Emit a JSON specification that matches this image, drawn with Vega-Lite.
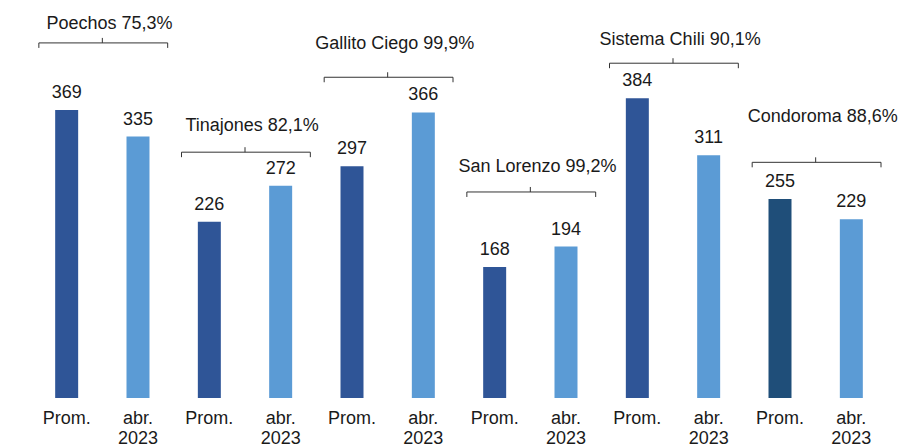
{
  "$schema": "https://vega.github.io/schema/vega-lite/v6.json",
  "width": 856,
  "height": 398,
  "autosize": {"type": "none"},
  "padding": {"left": 31, "right": 31, "top": 0, "bottom": 48},
  "background": "white",
  "config": {"view": {"stroke": null}, "font": "Liberation Sans"},
  "datasets": {
    "bars": [
      {"reservoir": "Poechos", "period": "Prom.", "value": 369},
      {"reservoir": "Poechos", "period": "abr. 2023", "value": 335},
      {"reservoir": "Tinajones", "period": "Prom.", "value": 226},
      {"reservoir": "Tinajones", "period": "abr. 2023", "value": 272},
      {"reservoir": "Gallito Ciego", "period": "Prom.", "value": 297},
      {"reservoir": "Gallito Ciego", "period": "abr. 2023", "value": 366},
      {"reservoir": "San Lorenzo", "period": "Prom.", "value": 168},
      {"reservoir": "San Lorenzo", "period": "abr. 2023", "value": 194},
      {"reservoir": "Sistema Chili", "period": "Prom.", "value": 384},
      {"reservoir": "Sistema Chili", "period": "abr. 2023", "value": 311},
      {"reservoir": "Condoroma", "period": "Prom.", "value": 255},
      {"reservoir": "Condoroma", "period": "abr. 2023", "value": 229}
    ],
    "groups": [
      {"reservoir": "Poechos", "label": "Poechos 75,3%", "bracket": 455, "labelLevel": 473},
      {"reservoir": "Tinajones", "label": "Tinajones 82,1%", "bracket": 315, "labelLevel": 342},
      {"reservoir": "Gallito Ciego", "label": "Gallito Ciego 99,9%", "bracket": 411, "labelLevel": 447},
      {"reservoir": "San Lorenzo", "label": "San Lorenzo 99,2%", "bracket": 264, "labelLevel": 290},
      {"reservoir": "Sistema Chili", "label": "Sistema Chili 90,1%", "bracket": 429, "labelLevel": 452},
      {"reservoir": "Condoroma", "label": "Condoroma 88,6%", "bracket": 302, "labelLevel": 354}
    ]
  },
  "layer": [
    {
      "data": {"name": "bars"},
      "mark": {"type": "bar"},
      "encoding": {
        "x": {"field": "reservoir", "type": "nominal", "scale": {"domain": ["Poechos", "Tinajones", "Gallito Ciego", "San Lorenzo", "Sistema Chili", "Condoroma"], "paddingInner": 0, "paddingOuter": 0}, "axis": null},
        "xOffset": {"field": "period", "type": "nominal", "scale": {"domain": ["Prom.", "abr. 2023"], "paddingInner": 0.6777, "paddingOuter": 0.3389}},
        "y": {"field": "value", "type": "quantitative", "scale": {"domain": [0, 510], "nice": false}, "axis": null},
        "color": {
          "condition": {"test": "datum.reservoir === 'Condoroma' && datum.period === 'Prom.'", "value": "#1F4E79"},
          "field": "period", "type": "nominal",
          "scale": {"domain": ["Prom.", "abr. 2023"], "range": ["#2F5597", "#5B9BD5"]},
          "legend": null
        }
      }
    },
    {
      "data": {"name": "bars"},
      "mark": {"type": "text", "fontSize": 18, "baseline": "alphabetic", "align": "center", "dy": -12, "color": "#1a1a1a"},
      "encoding": {
        "x": {"field": "reservoir", "type": "nominal"},
        "xOffset": {"field": "period", "type": "nominal"},
        "y": {"field": "value", "type": "quantitative"},
        "text": {"field": "value", "type": "quantitative"}
      }
    },
    {
      "data": {"name": "bars"},
      "mark": {"type": "text", "fontSize": 18, "baseline": "top", "align": "center", "dy": 12, "lineBreak": " ", "lineHeight": 20, "color": "#1a1a1a"},
      "encoding": {
        "x": {"field": "reservoir", "type": "nominal"},
        "xOffset": {"field": "period", "type": "nominal"},
        "y": {"datum": 0, "type": "quantitative"},
        "text": {"field": "period", "type": "nominal"}
      }
    },
    {
      "data": {"name": "groups"},
      "mark": {"type": "rule", "color": "#333333", "strokeWidth": 1},
      "encoding": {
        "x": {"field": "reservoir", "type": "nominal", "bandPosition": 0.055},
        "x2": {"field": "reservoir", "bandPosition": 0.958},
        "y": {"field": "bracket", "type": "quantitative"}
      }
    },
    {
      "data": {"name": "groups"},
      "mark": {"type": "rule", "color": "#333333", "strokeWidth": 1, "y2Offset": 5},
      "encoding": {
        "x": {"field": "reservoir", "type": "nominal", "bandPosition": 0.055},
        "y": {"field": "bracket", "type": "quantitative"},
        "y2": {"field": "bracket"}
      }
    },
    {
      "data": {"name": "groups"},
      "mark": {"type": "rule", "color": "#333333", "strokeWidth": 1, "y2Offset": 5},
      "encoding": {
        "x": {"field": "reservoir", "type": "nominal", "bandPosition": 0.958},
        "y": {"field": "bracket", "type": "quantitative"},
        "y2": {"field": "bracket"}
      }
    },
    {
      "data": {"name": "groups"},
      "mark": {"type": "rule", "color": "#333333", "strokeWidth": 1, "y2Offset": -5},
      "encoding": {
        "x": {"field": "reservoir", "type": "nominal", "bandPosition": 0.5},
        "y": {"field": "bracket", "type": "quantitative"},
        "y2": {"field": "bracket"}
      }
    },
    {
      "data": {"name": "groups"},
      "mark": {"type": "text", "fontSize": 18, "baseline": "alphabetic", "align": "center", "color": "#1a1a1a"},
      "encoding": {
        "x": {"field": "reservoir", "type": "nominal", "bandPosition": 0.55},
        "y": {"field": "labelLevel", "type": "quantitative"},
        "text": {"field": "label", "type": "nominal"}
      }
    }
  ]
}
